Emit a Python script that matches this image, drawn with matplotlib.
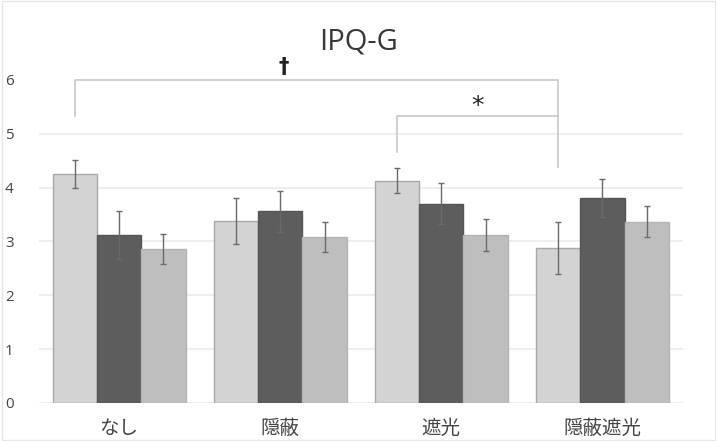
import matplotlib
matplotlib.use("Agg")
import matplotlib.pyplot as plt
import numpy as np
from matplotlib.patches import Rectangle

plt.rcParams['font.family'] = ['Noto Sans CJK JP', 'DejaVu Sans']

categories = ["なし", "隠蔽", "遮光", "隠蔽遮光"]
series1 = [4.26, 3.38, 4.13, 2.88]
series2 = [3.12, 3.56, 3.70, 3.81]
series3 = [2.86, 3.09, 3.12, 3.37]
err1 = [0.26, 0.42, 0.23, 0.48]
err2 = [0.45, 0.38, 0.38, 0.35]
err3 = [0.27, 0.28, 0.30, 0.29]
yticks = [0, 1, 2, 3, 4, 5, 6]

fig = plt.figure(figsize=(7.17, 4.41), dpi=100)
ax = fig.add_axes([0.0537, 0.0862, 0.8989, 0.7324])

x = np.arange(len(categories))
w = 0.275
colors = ["#d3d3d3", "#5d5d5d", "#bebebe"]
edges = ["#a8a8a8", "#555555", "#b4b4b4"]
for i, (vals, errs) in enumerate([(series1, err1), (series2, err2), (series3, err3)]):
    xs = x + (i - 1) * w
    ax.bar(xs, vals, width=w, color=colors[i], edgecolor=edges[i], linewidth=1.0, zorder=2)
    ax.errorbar(xs, vals, yerr=errs, fmt='none', ecolor="#6a6a6a", elinewidth=1.0,
                capsize=2.5, capthick=1.0, zorder=3)

ax.set_xlim(-0.5, 3.5)
ax.set_ylim(0, 6)
ax.set_yticks(yticks)
ax.set_yticklabels([str(t) for t in yticks], fontsize=11, color="#444444",
                   family=['Open Sans', 'DejaVu Sans'])
ax.set_xticks(x)
ax.set_xticklabels(categories, fontsize=14, color="#444444")
ax.tick_params(axis='y', length=0, pad=18)
ax.tick_params(axis='x', length=0, pad=11)
for s in ax.spines.values():
    s.set_visible(False)
for t in yticks[:-1]:
    ax.axhline(t, color="#ebebeb", linewidth=1.2, zorder=0)

# significance brackets
bc = "#c8c8c8"
xl0 = x[0] - w
xl2 = x[2] - w
xl3 = x[3] - w
ax.plot([xl0, xl0, xl3, xl3], [5.33, 6.0, 6.0, 4.39], color=bc, linewidth=1.2,
        clip_on=False, zorder=1)
ax.plot([xl2, xl2, xl3], [4.67, 5.33, 5.33], color=bc, linewidth=1.2,
        clip_on=False, zorder=1)
ax.text(1.02, 6.06, "†", ha='center', va='bottom', fontsize=15, fontweight='bold',
        color="#222222", family=['DejaVu Sans'])
ax.text((xl2 + xl3) / 2, 5.30, "*", ha='center', va='bottom', fontsize=18,
        color="#222222", family=['DejaVu Sans'])

fig.text(0.5, 0.905, "IPQ-G", ha='center', va='center', fontsize=21,
         color="#383838", family=['Open Sans', 'DejaVu Sans'])

fig.patches.append(Rectangle((0.003, 0.003), 0.994, 0.994, transform=fig.transFigure,
                             fill=False, edgecolor="#e6e6e6", linewidth=1.0))

fig.savefig("out.png", dpi=100)
